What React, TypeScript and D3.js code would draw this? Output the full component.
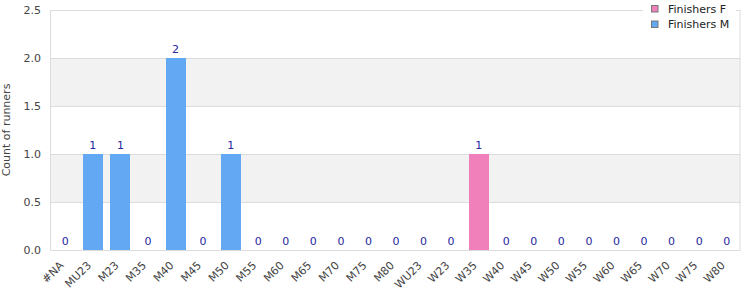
import React from "react";
import * as d3 from "d3";

const categories = ["#NA","MU23","M23","M35","M40","M45","M50","M55","M60","M65","M70","M75","M80","WU23","W23","W35","W40","W45","W50","W55","W60","W65","W70","W75","W80"];
const finishersF = [0,0,0,0,0,0,0,0,0,0,0,0,0,0,0,1,0,0,0,0,0,0,0,0,0];
const finishersM = [0,1,1,0,2,0,1,0,0,0,0,0,0,0,0,0,0,0,0,0,0,0,0,0,0];
const yTicks = [0, 0.5, 1.0, 1.5, 2.0, 2.5];
const seriesNames = ["Finishers F", "Finishers M"];

const COLORS = ["#f080b9", "#62a8f2"];
const FONT = "'DejaVu Sans', Verdana, sans-serif";

export default function App() {
  const W = 750, H = 300;
  const left = 50.5, right = 740.5, top = 10, bottom = 250;
  const x = d3.scaleBand<string>().domain(categories).range([51.5, 740.5]).padding(0);
  const y = d3.scaleLinear().domain([0, 2.5]).range([bottom, top]);
  const barW = 20;

  const rows = categories.map((c, i) => ({ c, F: finishersF[i], M: finishersM[i] }));
  const stack = d3.stack<any>().keys(["F", "M"])(rows as any);

  const bands: [number, number][] = [[0.5, 1.0], [1.5, 2.0]];

  return (
    <svg width={W} height={H} style={{ position: "absolute", left: 0, top: 0 }} fontFamily={FONT}>
      <rect x={0} y={0} width={W} height={H} fill="#fff" />
      {bands.map(([a, b], i) => (
        <rect key={i} x={left} y={y(b)} width={right - left} height={y(a) - y(b)} fill="#f2f2f2" />
      ))}
      {yTicks.map((t) => (
        <line key={t} x1={left} x2={right} y1={Math.round(y(t)) + 0.5} y2={Math.round(y(t)) + 0.5} stroke="#dcdcdc" />
      ))}
      <line x1={left} x2={left} y1={top} y2={bottom} stroke="#dcdcdc" />
      <line x1={right - 0.5} x2={right - 0.5} y1={top} y2={bottom} stroke="#dcdcdc" />
      {yTicks.map((t) => (
        <text key={t} x={41} y={y(t) + 4} textAnchor="end" fontSize={11} fill="#444">{t.toFixed(1)}</text>
      ))}
      <text transform={`translate(10,${(top + bottom) / 2}) rotate(-90)`} textAnchor="middle" fontSize={11} fill="#444">Count of runners</text>
      {stack.map((s, si) => (
        <g key={si}>
          {s.map((d, i) => {
            const h = y(d[0]) - y(d[1]);
            if (h <= 0) return null;
            const cx = (x(categories[i]) as number) + x.bandwidth() / 2;
            return <rect key={i} x={Math.round(cx - barW / 2)} y={y(d[1])} width={barW} height={h} fill={COLORS[si]} />;
          })}
        </g>
      ))}
      {rows.map((r, i) => {
        const cx = (x(r.c) as number) + x.bandwidth() / 2;
        const tot = r.F + r.M;
        return (
          <text key={i} x={cx} y={y(tot) - 5} textAnchor="middle" fontSize={11} fill="#2626a0">{tot}</text>
        );
      })}
      {categories.map((c) => {
        const cx = (x(c) as number) + x.bandwidth() / 2;
        return (
          <text key={c} transform={`translate(${cx - 1},266) rotate(-45)`} textAnchor="end" fontSize={11} fill="#444">{c}</text>
        );
      })}
      <rect x={643} y={0} width={93} height={30} fill="#fff" />
      {seriesNames.map((n, i) => (
        <g key={n}>
          <rect x={651.5} y={5.5 + i * 15.5} width={6.5} height={6.5} fill={COLORS[i]} stroke="#777" />
          <text x={668} y={12.5 + i * 15.5} fontSize={11} fill="#222">{n}</text>
        </g>
      ))}
    </svg>
  );
}
